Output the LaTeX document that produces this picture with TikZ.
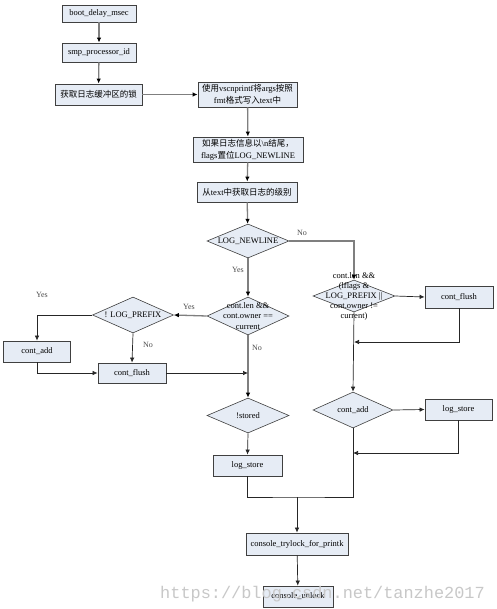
\documentclass[tikz,border=0pt]{standalone}
\usepackage{fontspec}
\setmainfont{Liberation Serif}
\newfontfamily\cjk{Noto Sans CJK SC}
\newfontfamily\wmfont{Liberation Mono}
\usepackage{xcolor}
\usepackage{tikz}
\usetikzlibrary{shapes.geometric,arrows.meta}
\definecolor{boxfill}{HTML}{E6ECF5}
\definecolor{edge}{HTML}{404040}
\definecolor{wire}{HTML}{7F7F7F}
\definecolor{mark}{HTML}{C8C8C8}
\tikzset{
  box/.style={draw=edge, fill=boxfill, line width=0.8pt, inner sep=0pt, align=center,
    font=\fontsize{8.5}{12}\selectfont},
  dec/.style={diamond, draw=edge, fill=boxfill, line width=0.6pt, inner sep=0pt},
  dectext/.style={align=center, font=\fontsize{8.5}{10.5}\selectfont},
  flow/.style={draw=wire, line width=1.3pt, -{Latex[length=5pt,width=4.5pt,fill=black,color=black]}},
  thin/.style={draw=black!85, line width=0.7pt, -{Latex[length=5pt,width=4.5pt]}},
  plain/.style={draw=black!85, line width=0.7pt},
  yn/.style={font=\fontsize{8}{9}\selectfont, text=black!70},
}

\begin{document}
\begin{tikzpicture}[x=1pt,y=-1pt]
  \useasboundingbox[fill=white] (0,0) rectangle (496,609);

  % main column
  \node[box, minimum width=74pt, minimum height=17pt] (boot) at (99,13.5) {boot\_delay\_msec};
  \node[box, minimum width=74pt, minimum height=19pt] (smp) at (99,52.5) {smp\_processor\_id};
  \node[box, minimum width=87pt, minimum height=21pt] (lock) at (98.5,94.5) {{\cjk 获取日志缓冲区的锁}};
  \node[box, minimum width=99pt, minimum height=25pt] (fmt) at (247.5,94.5)
    {{\cjk 使用}vscnprintf{\cjk 将}args{\cjk 按照}\\fmt{\cjk 格式写入}text{\cjk 中}};
  \node[box, minimum width=110pt, minimum height=25pt] (flags) at (248,149.5)
    {{\cjk 如果日志信息以}\textbackslash n{\cjk 结尾，}\\flags{\cjk 置位}LOG\_NEWLINE};
  \node[box, minimum width=100pt, minimum height=20pt] (level) at (247,192)
    {{\cjk 从}text{\cjk 中获取日志的级别}};

  % decisions
  \node[dec, minimum width=82pt, minimum height=34pt] (nl) at (248,241) {};
  \node[dectext] (nlt) at (nl) {LOG\_NEWLINE};
  \node[dec, minimum width=82pt, minimum height=38pt] (own) at (248,316) {};
  \node[dectext] (ownt) at (own) {cont.len \&\&\\cont.owner ==\\current};
  \node[dec, minimum width=82pt, minimum height=32pt] (pre) at (354,296) {};
  \node[dectext, font=\fontsize{8.5}{10}\selectfont] (pret) at (pre)
    {cont.len \&\&\\(lflags \&\\LOG\_PREFIX ||\\cont.owner !=\\current)};
  \node[dec, minimum width=81pt, minimum height=36pt] (nopre) at (133,315) {};
  \node[dectext] (nopret) at (nopre) {! LOG\_PREFIX};
  \node[dec, minimum width=82pt, minimum height=35pt] (stored) at (248,415.5) {};
  \node[dectext] (storedt) at (stored) {!stored};
  \node[dec, minimum width=80pt, minimum height=36pt] (addR) at (353,410) {};
  \node[dectext] (addRt) at (addR) {cont\_add};

  % side boxes
  \node[box, minimum width=68pt, minimum height=22pt] (flushR) at (459,297) {cont\_flush};
  \node[box, minimum width=67pt, minimum height=21pt] (addL) at (37,351.5) {cont\_add};
  \node[box, minimum width=68pt, minimum height=20pt] (flushM) at (132,373) {cont\_flush};
  \node[box, minimum width=69pt, minimum height=21pt] (storeL) at (247.5,465.5) {log\_store};
  \node[box, minimum width=67pt, minimum height=21pt] (storeR) at (458.5,409.5) {log\_store};
  \node[box, minimum width=102pt, minimum height=22pt] (try) at (297,544) {console\_trylock\_for\_printk};
  \node[box, minimum width=70pt, minimum height=21pt] (unlock) at (298,596.5) {console\_unlock};

  % join points
  \coordinate (j1) at (248,373);
  \coordinate (j2) at (354,342);
  \coordinate (j3) at (353,453);
  \coordinate (m) at (297,497);

  % connectors
  \draw[flow] (boot) -- (smp);
  \draw[flow] (smp) -- (lock);
  \draw[flow] (lock) -- (fmt);
  \draw[flow] (fmt) -- (flags);
  \draw[flow] (flags) -- (level);
  \draw[flow] (level) -- (nl);
  \draw[flow] (nl.east) -| (pre.north);
  \draw[flow] (nl.south) -- (own.north);
  \draw[flow] (own.west) -- (nopre.east);
  \draw[flow] (own.south) -- (stored.north);
  \draw[thin] (nopre.west) -| (addL.north);
  \draw[thin] (nopre.south) -- (flushM.north);
  \draw[thin] (addL.south) |- (flushM.west);
  \draw[thin] (flushM.east) -- (j1);
  \draw[thin] (pre.east) -- (flushR.west);
  \draw[thin] (flushR.south) |- (j2);
  \draw[thin] (pre.south) -- (addR.north);
  \draw[thin] (addR.east) -- (storeR.west);
  \draw[thin] (storeR.south) |- (j3);
  \draw[thin] (stored.south) -- (storeL.north);
  \draw[plain] (storeL.south) |- (m) -| (addR.south);
  \draw[thin] (m) -- (try.north);
  \draw[thin] (try) -- (unlock);

  % branch labels
  \node[yn] (no1) at (302,233) {No};
  \node[yn] (yes1) at (238,270) {Yes};
  \node[yn] (yes2) at (189,307) {Yes};
  \node[yn] (yes3) at (42,295) {Yes};
  \node[yn] (no2) at (148,345) {No};
  \node[yn] (no3) at (257,348) {No};

  % watermark
  \node[text=mark, font=\wmfont\fontsize{16.9}{18}\selectfont] (wm) at (322.5,594)
    {https://blog.csdn.net/tanzhe2017};
\end{tikzpicture}
\end{document}
